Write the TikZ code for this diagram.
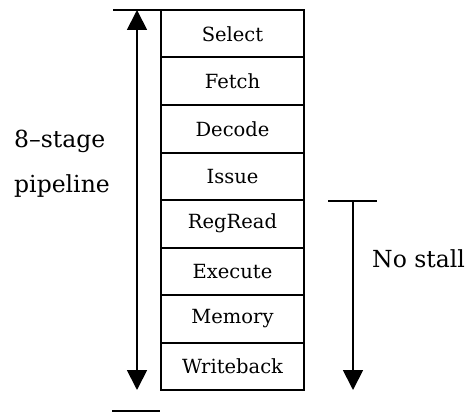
\documentclass[tikz,border=0pt]{standalone}
\usepackage{fontspec}
\setmainfont{DejaVu Serif}
\usetikzlibrary{arrows.meta}
\begin{document}
\begin{tikzpicture}[x=1pt,y=-1pt,
  stagebox/.style={draw, line width=2pt, minimum width=143pt, minimum height=47.5pt,
    inner sep=0pt, outer sep=0pt, anchor=north, font=\fontsize{19.5}{20}\selectfont},
  rule/.style={line width=2pt},
  flow/.style={line width=1.8pt, -{Triangle[length=20pt,width=20pt]}},
  sidelabel/.style={font=\fontsize{23.5}{26}\selectfont, inner sep=0pt}]
\useasboundingbox (0,0) rectangle (470,414);
% pipeline stages, stacked top to bottom
\node[stagebox] (s1) at (232.5,10) {Select};
\node[stagebox] (s2) at (s1.south) {Fetch};
\node[stagebox] (s3) at (s2.south) {Decode};
\node[stagebox] (s4) at (s3.south) {Issue};
\node[stagebox] (s5) at (s4.south) {RegRead};
\node[stagebox] (s6) at (s5.south) {Execute};
\node[stagebox] (s7) at (s6.south) {Memory};
\node[stagebox] (s8) at (s7.south) {Writeback};
% span of the whole pipeline
\coordinate (topl) at (113,10);
\coordinate (upmid) at (137,200);
\coordinate (upbot) at (137,390);
\coordinate (uptop) at (137,10);
\draw[rule] (topl) -- (s1.north east);
\draw[flow] (upmid) -- (uptop);
\draw[flow] (upmid) -- (upbot);
\coordinate (botl) at (112,411);
\coordinate (botr) at (160,411);
\draw[rule] (botl) -- (botr);
% stall-free part of the pipeline
\coordinate (nsl) at (328,200.5);
\coordinate (nsr) at (377,200.5);
\coordinate (nstop) at (353,200.5);
\coordinate (nsbot) at (353,390);
\draw[rule] (nsl) -- (nsr);
\draw[flow] (nstop) -- (nsbot);
% labels
\node[sidelabel, anchor=base west] (lab1) at (14,147) {8–stage};
\node[sidelabel, anchor=base west] (lab2) at (14,192) {pipeline};
\node[sidelabel, anchor=base west] (lab3) at (372,267) {No stall};
\end{tikzpicture}
\end{document}
